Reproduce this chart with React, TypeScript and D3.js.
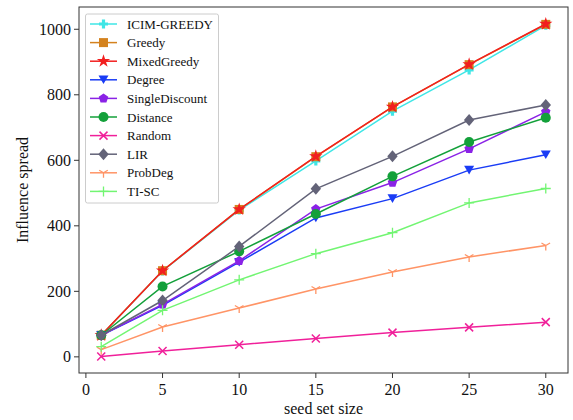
import React from "react";
import * as d3 from "d3";

const xs = [1, 5, 10, 15, 20, 25, 30];
const seriesNames = ["ICIM-GREEDY", "Greedy", "MixedGreedy", "Degree", "SingleDiscount", "Distance", "Random", "LIR", "ProbDeg", "TI-SC"];
const icimGreedy = [66, 262, 448, 598, 750, 876, 1012];
const greedy = [66, 263, 450, 611, 763, 892, 1015];
const mixedGreedy = [66, 263, 450, 612, 763, 893, 1016];
const degree = [66, 157, 289, 424, 483, 570, 617];
const singleDiscount = [66, 160, 293, 451, 532, 635, 748];
const distance = [66, 215, 322, 436, 551, 656, 730];
const randomS = [1, 18, 37, 56, 74, 90, 106];
const lir = [66, 172, 337, 513, 612, 723, 769];
const probDeg = [22, 91, 149, 207, 259, 305, 340];
const tiSc = [31, 142, 235, 315, 379, 470, 514];
const xTicks = [0, 5, 10, 15, 20, 25, 30];
const yTicks = [0, 200, 400, 600, 800, 1000];

const values = [icimGreedy, greedy, mixedGreedy, degree, singleDiscount, distance, randomS, lir, probDeg, tiSc];
const colors = ["#3fe6e6", "#d4821e", "#f21f1f", "#1a3cf5", "#8a22e6", "#13a03a", "#f0209a", "#636378", "#ff9466", "#72f572"];
const markers = ["P", "s", "*", "v", "p", "o", "x", "D", "1", "+"];

const L = 79, R = 568, T = 7, B = 373;
const xScale = d3.scaleLinear().domain([-0.45, 31.45]).range([L, R]);
const yScale = d3.scaleLinear().domain([-49.3, 1068]).range([B, T]);
const FONT = "'Liberation Serif', 'DejaVu Serif', serif";

function Marker({ type, x, y, color }: { type: string; x: number; y: number; color: string }) {
  const t = `translate(${x},${y})`;
  switch (type) {
    case "P":
      return <path transform={t} d="M-1.6,-4.5H1.6V-1.6H4.5V1.6H1.6V4.5H-1.6V1.6H-4.5V-1.6H-1.6Z" fill={color} />;
    case "s":
      return <rect x={x - 4.5} y={y - 4.5} width={9} height={9} fill={color} />;
    case "*":
      return <path transform={t} d={d3.symbol(d3.symbolStar, 55)() as string} fill={color} />;
    case "v":
      return <path transform={t} d="M-5,-4.3L5,-4.3L0,4.3Z" fill={color} />;
    case "p": {
      const pts = d3.range(5).map((i) => {
        const a = -Math.PI / 2 + (i * 2 * Math.PI) / 5;
        return [5 * Math.cos(a), 5 * Math.sin(a)];
      });
      return <path transform={t} d={"M" + pts.map((p) => p.join(",")).join("L") + "Z"} fill={color} />;
    }
    case "o":
      return <circle cx={x} cy={y} r={5} fill={color} />;
    case "x":
      return <path transform={t} d="M-4,-4L4,4M-4,4L4,-4" stroke={color} strokeWidth={1.5} fill="none" />;
    case "D":
      return <path transform={t} d="M0,-6L5.2,0L0,6L-5.2,0Z" fill={color} />;
    case "1":
      return <path transform={t} d="M0,0V5M0,0L-4.3,-2.5M0,0L4.3,-2.5" stroke={color} strokeWidth={1.3} fill="none" />;
    case "+":
      return <path transform={t} d="M-5,0H5M0,-5V5" stroke={color} strokeWidth={1.3} fill="none" />;
  }
  return null;
}

export default function App() {
  const line = d3
    .line<number>()
    .x((_, i) => xScale(xs[i]))
    .y((v) => yScale(v));
  return (
    <svg width={573} height={420} style={{ position: "absolute", left: 0, top: 0, background: "#fff" }}>
      <rect x={0} y={0} width={573} height={420} fill="#fff" />
      {values.map((vals, si) => (
        <g key={si}>
          <path d={line(vals) as string} fill="none" stroke={colors[si]} strokeWidth={1.5} />
          {vals.map((v, i) => (
            <Marker key={i} type={markers[si]} x={xScale(xs[i])} y={yScale(v)} color={colors[si]} />
          ))}
        </g>
      ))}
      <rect x={L} y={T} width={R - L} height={B - T} fill="none" stroke="#333" strokeWidth={1} />
      {xTicks.map((t) => (
        <g key={t}>
          <line x1={xScale(t)} x2={xScale(t)} y1={B} y2={B + 5} stroke="#333" />
          <text x={xScale(t)} y={395} textAnchor="middle" fontSize={16} fill="#111" style={{ fontFamily: FONT }}>{t}</text>
        </g>
      ))}
      {yTicks.map((t) => (
        <g key={t}>
          <line x1={L - 5} x2={L} y1={yScale(t)} y2={yScale(t)} stroke="#333" />
          <text x={L - 8} y={yScale(t) + 5.5} textAnchor="end" fontSize={16} fill="#111" style={{ fontFamily: FONT }}>{t}</text>
        </g>
      ))}
      <text x={(L + R) / 2} y={414} textAnchor="middle" fontSize={16} fill="#111" style={{ fontFamily: FONT }}>seed set size</text>
      <text transform={`translate(28,${(T + B) / 2}) rotate(-90)`} textAnchor="middle" fontSize={16} fill="#111" style={{ fontFamily: FONT }}>Influence spread</text>
      <rect x={85.5} y={14} width={133} height={189} rx={2} fill="#fff" fillOpacity={0.85} stroke="#ccc" />
      {seriesNames.map((name, si) => {
        const y = 24 + si * 18.6;
        return (
          <g key={name}>
            <line x1={90} x2={117} y1={y} y2={y} stroke={colors[si]} strokeWidth={1.5} />
            <Marker type={markers[si]} x={103.5} y={y} color={colors[si]} />
            <text x={127} y={y + 4.5} fontSize={13} fill="#111" style={{ fontFamily: FONT }}>{name}</text>
          </g>
        );
      })}
    </svg>
  );
}
